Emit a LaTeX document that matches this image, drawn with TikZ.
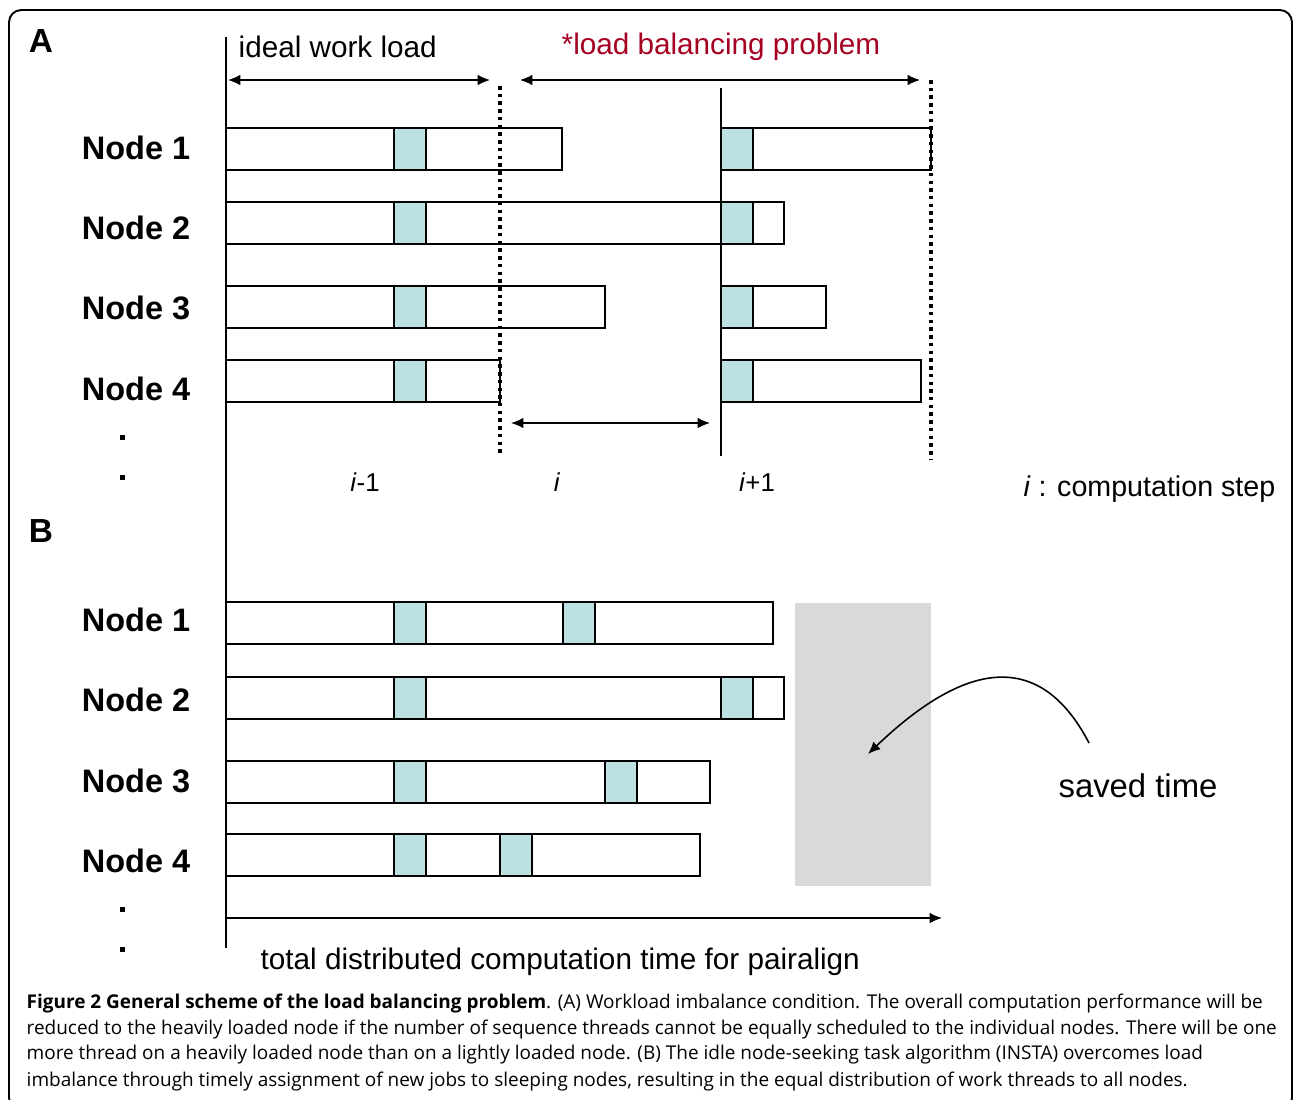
\documentclass[tikz,border=0pt]{standalone}
\usepackage{fontspec}
\setmainfont{Liberation Sans}
\newfontfamily\capfont{Open Sans}
\usetikzlibrary{arrows.meta}
\definecolor{slotcyan}{RGB}{189,224,227}
\definecolor{savedgray}{RGB}{217,217,217}
\definecolor{probred}{RGB}{165,0,33}
\def\slot(#1,#2){\draw[fill=slotcyan] (#1,#2) rectangle ++(32,42);}
\def\fsz#1{\fontsize{#1}{#1}\selectfont}

\begin{document}
\begin{tikzpicture}[x=0.02cm, y=-0.02cm, line width=0.8pt, >={Latex[length=7pt,width=6pt]},
		nodelbl/.style={font=\bfseries\fsz{18.5}, inner sep=0pt},
		plain/.style={font=\fsz{16.9}, inner sep=0pt},
		dotline/.style={line width=2pt, dash pattern=on 2pt off 2.4pt},
		caption/.style={anchor=west, inner sep=0pt, font=\capfont\fsz{10.8}}]
				\useasboundingbox (0,0) rectangle (1293,1099);
				\draw[line width=1.1pt, rounded corners=7pt] (9,10) rectangle (1292,1110);
				
				\node[nodelbl, font=\bfseries\fsz{19}] (lblA) at (41,41) {A};
				\node[nodelbl, font=\bfseries\fsz{19}] (lblB) at (41,531) {B};
				
				\node[nodelbl] (a1) at (136,148) {Node 1};
				\node[nodelbl] (a2) at (136,228) {Node 2};
				\node[nodelbl] (a3) at (136,308) {Node 3};
				\node[nodelbl] (a4) at (136,389) {Node 4};
				\fill (119.5,434.5) rectangle ++(5,5);
				\fill (119.5,474.5) rectangle ++(5,5);
				
				\node[plain, anchor=west] (ideal) at (238,47) {ideal work load};
				\node[plain, text=probred] (problem) at (721,47) {*load balancing problem};
				\coordinate (idealL) at (228,80);
				\coordinate (idealR) at (490,80);
				\coordinate (probL) at (520,80);
				\coordinate (probR) at (920,80);
				\draw[<->] (idealL) -- (idealR);
				\draw[<->] (probL) -- (probR);
				
				\draw (226,128) rectangle (562,170);
				\slot(394,128)
				\draw (721,128) rectangle (931,170);
				\slot(721,128)
				
				\draw (226,202) rectangle (784,244);
				\slot(394,202)
				\slot(721,202)
				
				\draw (226,286) rectangle (605,328);
				\slot(394,286)
				\draw (721,286) rectangle (826,328);
				\slot(721,286)
				
				\draw (226,360) rectangle (500,402);
				\slot(394,360)
				\draw (721,360) rectangle (921,402);
				\slot(721,360)
				
				\draw (721,88) -- (721,456);
				\draw[dotline] (500,86) -- (500,456);
				\draw[dotline] (931,80) -- (931,460);
				\coordinate (stepL) at (511,423);
				\coordinate (stepR) at (710,423);
				\draw[<->] (stepL) -- (stepR);
				
				\node[plain, font=\fsz{14.7}] (im1) at (365,482) {\textit{i}-1};
				\node[plain, font=\fsz{14.7}] (ii) at (557,482) {\textit{i}};
				\node[plain, font=\fsz{14.7}] (ip1) at (757,482) {\textit{i}+1};
				\node[plain, font=\fsz{16.3}, anchor=east] (steplbl) at (1276,489) {\textit{i} : computation step};
				
				\node[nodelbl] (b1) at (136,620) {Node 1};
				\node[nodelbl] (b2) at (136,700) {Node 2};
				\node[nodelbl] (b3) at (136,781) {Node 3};
				\node[nodelbl] (b4) at (136,861) {Node 4};
				\fill (119.5,906.5) rectangle ++(5,5);
				\fill (119.5,946.5) rectangle ++(5,5);
				
				\fill[savedgray] (795,603) rectangle (931,886);
				
				\draw (226,602) rectangle (773,644);
				\slot(394,602)
				\slot(563,602)
				
				\draw (226,677) rectangle (784,719);
				\slot(394,677)
				\slot(721,677)
				
				\draw (226,761) rectangle (710,803);
				\slot(394,761)
				\slot(605,761)
				
				\draw (226,834) rectangle (700,876);
				\slot(394,834)
				\slot(500,834)
				
				\draw (226,37) -- (226,948);
				\coordinate (timeL) at (226,918);
				\coordinate (timeR) at (942,918);
				\draw[->] (timeL) -- (timeR);
				\node[plain, anchor=west] (total) at (260,962) {total distributed computation time for pairalign};
				
				\node[plain, font=\fsz{18.7}] (saved) at (1138,786) {saved time};
				\coordinate (curveS) at (1089,743);
				\coordinate (curveE) at (868,754);
				\draw[->, line width=0.9pt] (curveS) .. controls (1050,668) and (985,642) .. (curveE);
				
				\node[caption] (cap1) at (26,1003) {\textbf{Figure 2 General scheme of the load balancing problem}. (A) Workload imbalance condition. The overall computation performance will be};
				\node[caption] (cap2) at (26,1029) {reduced to the heavily loaded node if the number of sequence threads cannot be equally scheduled to the individual nodes. There will be one};
				\node[caption] (cap3) at (26,1055) {more thread on a heavily loaded node than on a lightly loaded node. (B) The idle node-seeking task algorithm (INSTA) overcomes load};
				\node[caption] (cap4) at (26,1081) {imbalance through timely assignment of new jobs to sleeping nodes, resulting in the equal distribution of work threads to all nodes.};
			\end{tikzpicture}
\end{document}
